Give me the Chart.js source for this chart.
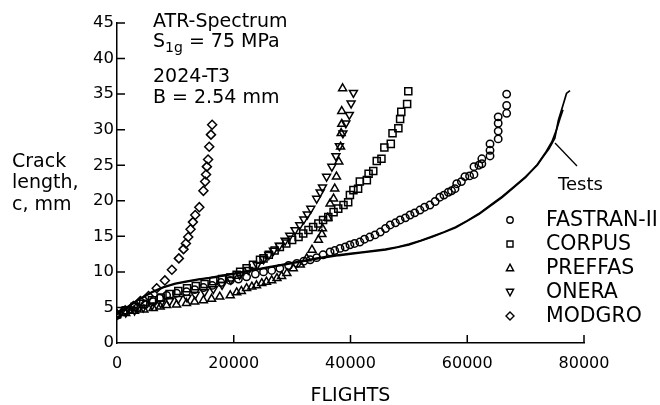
<!DOCTYPE html>
<html><head><meta charset="utf-8">
<script src="https://cdn.jsdelivr.net/npm/chart.js@4/dist/chart.umd.min.js"></script>
<style>html,body{margin:0;padding:0;background:#fff;} #wrap{width:660px;height:405px;position:relative;}</style>
</head><body><div id="wrap"><canvas id="c" width="660" height="405"></canvas></div>
<script>
// ---- data (flights, crack length mm) ----
const fastranX = [0,1100,2200,3400,4800,6200,7300,8500,10200,11900,13300,14800,16300,17800,19400,20800,22200,23700,25100,26500,27900,29400,30800,32000,33100,34200,35300,36500,37300,38200,39100,39900,40700,41600,42400,43300,44200,45100,46000,46800,47700,48500,49400,50200,51000,51900,52700,53600,54500,55300,56000,56750,57300,57900,58200,59000,59600,60400,61150,61150,62000,62500,62500,63900,63900,63900,65300,65300,65300,65300,66750,66750,66750];
const fastranY = [3.9,4.4,4.7,4.9,5.4,5.8,6.3,6.7,7.0,7.2,7.5,7.8,8.1,8.5,8.8,9.0,9.3,9.7,10.0,10.2,10.5,10.9,11.2,11.5,11.7,12.0,12.4,12.8,13.0,13.3,13.5,13.8,14.0,14.2,14.6,14.9,15.2,15.6,16.1,16.6,16.9,17.3,17.6,18.0,18.3,18.7,19.1,19.4,19.9,20.5,20.8,21.2,21.4,21.7,22.4,22.7,23.4,23.5,23.7,24.8,25.0,25.2,25.9,26.3,27.1,28.0,28.7,29.8,30.9,31.8,32.3,33.4,35.0];

const corpusX = [0,1500,3000,4500,6000,7500,9000,10500,12000,13500,15000,16500,18000,19400,20500,21100,22200,23300,24500,25100,26000,27000,27900,29000,30000,31100,31900,32800,33600,34500,35300,36200,37100,37900,38800,39600,39900,40500,41300,41600,42800,43100,43900,44500,45300,45800,46900,47200,48200,48500,48700,49700,49900];
const corpusY = [4.0,4.6,5.1,5.5,6.0,6.4,6.9,7.3,7.7,8.0,8.3,8.7,9.0,9.2,9.6,10.0,10.5,11.0,11.7,11.9,12.4,13.0,13.5,14.0,14.5,14.9,15.4,15.9,16.3,16.8,17.3,17.7,18.4,18.9,19.4,19.8,20.8,21.5,21.7,22.7,22.9,23.8,24.2,25.6,25.9,27.5,28.0,29.5,30.2,31.5,32.5,33.6,35.4];

const preffasX = [0,1500,3000,4600,6200,7400,8500,10200,11900,13300,14800,16200,17600,19400,20500,21300,22200,23100,23900,24800,25600,26500,27400,28200,29100,30200,31400,32500,33400,34500,35100,35200,36100,36500,37100,37300,37600,38000,38300,38400,38500,38500,38650];
const preffasY = [4.0,4.2,4.5,4.7,4.9,5.1,5.3,5.4,5.6,5.8,6.0,6.2,6.5,6.7,7.1,7.3,7.7,7.9,8.1,8.4,8.6,8.8,9.1,9.4,9.8,10.5,11.0,11.9,13.1,14.5,15.3,16.1,17.6,19.6,20.3,21.7,23.4,25.5,27.6,29.5,30.8,32.6,35.8];

const oneraX = [0,1500,3000,4500,6000,7500,9000,10500,12000,13400,15000,16500,18000,19500,21000,22500,24000,25100,26000,26800,27800,28800,29600,30500,31300,32000,32600,33200,34200,34800,35200,35900,36800,37500,38100,38700,39200,39800,40100,40500];
const oneraY = [4.0,4.3,4.6,5.0,5.3,5.6,5.9,6.2,6.4,6.8,7.2,7.6,8.2,8.9,9.6,10.3,11.0,11.8,12.4,13.0,13.7,14.4,15.1,15.9,16.6,17.4,18.1,18.9,20.3,21.2,21.9,23.4,24.8,26.3,27.7,29.5,30.9,32.1,33.7,35.2];

const modgroX = [0,1400,2800,4000,5400,6800,8200,9400,10600,11400,11800,12200,12600,13000,13400,14100,14800,15100,15250,15400,15600,15800,16100,16300];
const modgroY = [4.0,4.6,5.2,5.9,6.6,7.7,8.8,10.3,11.9,13.2,14.0,14.9,16.0,17.0,18.0,19.1,21.4,22.7,23.7,24.8,25.8,27.6,29.3,30.7];

const tests1X = [0,2000,4000,6000,8000,10000,12000,14000,16000,18000,20000,22000,24000,26000,28000,30000,32000,34000,36000,38000,40000,42000,44000,46000,48000,50000,52000,54000,56000,58000,60000,62000,64000,66000,68000,70000,72000,73000,74000,75000,75600,76500,77000,77600];
const tests1Y = [4.0,5.2,6.3,7.2,7.9,8.4,8.7,9.0,9.2,9.5,9.8,10.1,10.4,10.7,11.0,11.3,11.6,11.9,12.2,12.4,12.6,12.8,13.0,13.2,13.5,13.9,14.4,15.0,15.6,16.3,17.2,18.2,19.4,20.6,22.0,23.4,25.0,26.2,27.3,28.8,31.3,33.7,35.1,35.5];
const tests2X = [0,2000,4000,6000,8000,10000,14000,18000,22000,26000,30000,34000,38000,42000,46000,50000,54000,58000,62000,66000,70000,72000,73500,74500,75300,75900,76400];
const tests2Y = [4.0,5.1,6.2,7.1,7.8,8.3,8.9,9.4,10.0,10.6,11.2,11.8,12.3,12.7,13.1,13.8,14.9,16.2,18.1,20.5,23.3,25.1,26.9,28.3,30.0,31.6,32.8];

const xTicks = [0,20000,40000,60000,80000];
const yTicks = [0,5,10,15,20,25,30,35,40,45];
const legendNames = ['FASTRAN-II','CORPUS','PREFFAS','ONERA','MODGRO'];

const pts = (xs, ys) => xs.map((x, i) => ({x, y: ys[i]}));
const FONT = "'DejaVu Sans', sans-serif";

function marker(label, xs, ys, style, r, rot) {
  return {label, data: pts(xs, ys), pointStyle: style, pointRadius: r, pointRotation: rot || 0,
    pointBorderColor: '#000', pointBackgroundColor: 'rgba(0,0,0,0)', pointBorderWidth: 1.5,
    borderColor: '#000', backgroundColor: 'rgba(0,0,0,0)', showLine: false};
}
function testLine(xs, ys) {
  return {label: 'Tests', data: pts(xs, ys), showLine: true, pointRadius: 0, borderColor: '#000',
    borderWidth: 1.7, tension: 0, fill: false};
}

const decor = {
  id: 'decor',
  afterDraw(chart) {
    const ctx = chart.ctx, xs = chart.scales.x, ys = chart.scales.y;
    ctx.save();
    ctx.strokeStyle = '#000'; ctx.fillStyle = '#000'; ctx.lineWidth = 1.5;
    // inward ticks
    ctx.beginPath();
    xTicks.forEach(v => { const p = xs.getPixelForValue(v); if (v > 0) { ctx.moveTo(p, ys.bottom); ctx.lineTo(p, ys.bottom - 8); } });
    yTicks.forEach(v => { const p = ys.getPixelForValue(v); if (v > 0) { ctx.moveTo(xs.left, p); ctx.lineTo(xs.left + 8, p); } });
    ctx.stroke();
    // annotations
    ctx.textBaseline = 'alphabetic'; ctx.textAlign = 'left';
    ctx.font = '19px ' + FONT;
    ctx.fillText('ATR-Spectrum', 153, 27);
    ctx.fillText('S', 153, 47);
    let w = ctx.measureText('S').width;
    ctx.font = '14px ' + FONT;
    ctx.fillText('1g', 153 + w, 52);
    w += ctx.measureText('1g').width;
    ctx.font = '19px ' + FONT;
    ctx.fillText(' = 75 MPa', 153 + w, 47);
    ctx.fillText('2024-T3', 153, 82);
    ctx.fillText('B = 2.54 mm', 153, 103);
    // y title
    ctx.fillText('Crack', 12, 167);
    ctx.fillText('length,', 12, 188);
    ctx.fillText('c, mm', 12, 210);
    // x title
    ctx.textAlign = 'center';
    ctx.font = '19px ' + FONT;
    ctx.fillText('FLIGHTS', (xs.left + xs.right) / 2, 401);
    // Tests label
    ctx.textAlign = 'left';
    ctx.font = '18px ' + FONT;
    ctx.fillText('Tests', 558, 190);
    ctx.beginPath(); ctx.lineWidth = 1.3; ctx.moveTo(555, 143); ctx.lineTo(577, 166); ctx.stroke();
    // legend
    const rows = [220, 244, 268, 292, 316];
    const styles = ['circle', 'rect', 'triUp', 'triDown', 'diamond'];
    ctx.font = '20.5px ' + FONT; ctx.textBaseline = 'middle';
    ctx.lineWidth = 1.4;
    rows.forEach((yy, i) => {
      const cx = 510;
      ctx.beginPath();
      const s = styles[i];
      if (s === 'circle') ctx.arc(cx, yy, 3.2, 0, Math.PI * 2);
      else if (s === 'rect') ctx.rect(cx - 3, yy - 3, 6, 6);
      else if (s === 'triUp') { ctx.moveTo(cx, yy - 3.8); ctx.lineTo(cx + 3.6, yy + 2.8); ctx.lineTo(cx - 3.6, yy + 2.8); ctx.closePath(); }
      else if (s === 'triDown') { ctx.moveTo(cx, yy + 3.8); ctx.lineTo(cx + 3.6, yy - 2.8); ctx.lineTo(cx - 3.6, yy - 2.8); ctx.closePath(); }
      else { ctx.moveTo(cx, yy - 4); ctx.lineTo(cx + 4, yy); ctx.lineTo(cx, yy + 4); ctx.lineTo(cx - 4, yy); ctx.closePath(); }
      ctx.stroke();
      ctx.fillText(legendNames[i], 546, yy + 1);
    });
    ctx.restore();
  }
};

new Chart(document.getElementById('c'), {
  type: 'scatter',
  data: {
    datasets: [
      testLine(tests1X, tests1Y),
      testLine(tests2X, tests2Y),
      marker('FASTRAN-II', fastranX, fastranY, 'circle', 3.7),
      marker('CORPUS', corpusX, corpusY, 'rect', 5),
      marker('PREFFAS', preffasX, preffasY, 'triangle', 4.6),
      marker('ONERA', oneraX, oneraY, 'triangle', 4.6, 180),
      marker('MODGRO', modgroX, modgroY, 'rectRot', 4.5)
    ]
  },
  options: {
    responsive: false, devicePixelRatio: 1, animation: false,
    layout: {padding: {top: 23, right: 76, left: 0, bottom: 0}},
    plugins: {legend: {display: false}, tooltip: {enabled: false}},
    scales: {
      x: {
        type: 'linear', min: 0, max: 80000,
        afterBuildTicks: s => { s.ticks = xTicks.map(v => ({value: v})); },
        afterFit: s => { s.height = 62; },
        grid: {display: false, drawTicks: false},
        border: {display: true, color: '#000', width: 1.5},
        ticks: {color: '#000', font: {family: FONT, size: 16}, padding: 11, maxRotation: 0, callback: v => String(v)}
      },
      y: {
        type: 'linear', min: 0, max: 45,
        afterBuildTicks: s => { s.ticks = yTicks.map(v => ({value: v})); },
        afterFit: s => { s.width = 117; },
        grid: {display: false, drawTicks: false},
        border: {display: true, color: '#000', width: 1.5},
        ticks: {color: '#000', font: {family: FONT, size: 16.5}, padding: 3, callback: v => String(v)}
      }
    }
  },
  plugins: [decor]
});
</script>
</body></html>
